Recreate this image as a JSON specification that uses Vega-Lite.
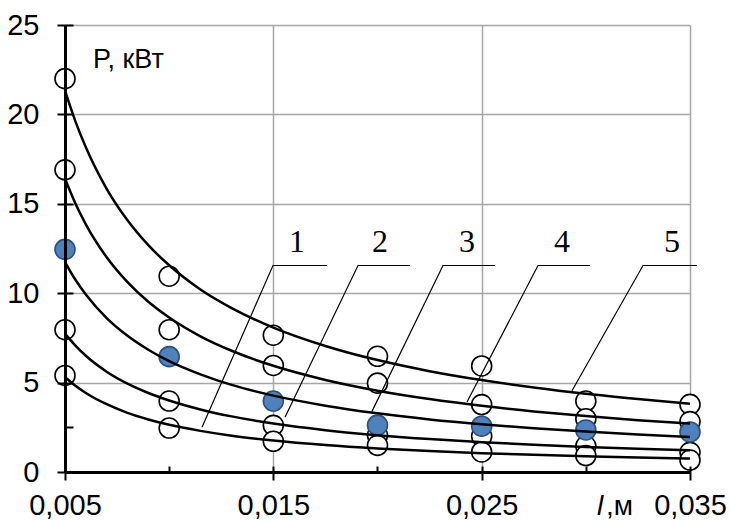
{
  "$schema": "https://vega.github.io/schema/vega-lite/v6.json",
  "width": 625,
  "height": 447,
  "autosize": {"type": "none"},
  "padding": {"left": 65, "top": 25, "right": 40, "bottom": 48},
  "background": "white",
  "config": {
    "view": {"stroke": null},
    "axis": {
      "labelFont": "Liberation Sans",
      "labelFontSize": 29,
      "labelColor": "black",
      "domainColor": "black",
      "domainWidth": 3,
      "tickColor": "black",
      "tickWidth": 2,
      "gridColor": "#a6a6a6",
      "gridWidth": 1.5,
      "title": null
    }
  },
  "datasets": {
    "pts": [
      {"x": 0.005, "y": 22.0, "k": "o"}, {"x": 0.005, "y": 16.9, "k": "o"}, {"x": 0.005, "y": 12.45, "k": "f"}, {"x": 0.005, "y": 7.96, "k": "o"}, {"x": 0.005, "y": 5.4, "k": "o"},
      {"x": 0.01, "y": 10.95, "k": "o"}, {"x": 0.01, "y": 7.96, "k": "o"}, {"x": 0.01, "y": 6.45, "k": "f"}, {"x": 0.01, "y": 3.97, "k": "o"}, {"x": 0.01, "y": 2.46, "k": "o"},
      {"x": 0.015, "y": 7.65, "k": "o"}, {"x": 0.015, "y": 5.96, "k": "o"}, {"x": 0.015, "y": 3.97, "k": "f"}, {"x": 0.015, "y": 2.61, "k": "o"}, {"x": 0.015, "y": 1.72, "k": "o"},
      {"x": 0.02, "y": 6.47, "k": "o"}, {"x": 0.02, "y": 4.97, "k": "o"}, {"x": 0.02, "y": 2.62, "k": "f"}, {"x": 0.02, "y": 2.05, "k": "o"}, {"x": 0.02, "y": 1.49, "k": "o"},
      {"x": 0.025, "y": 5.93, "k": "o"}, {"x": 0.025, "y": 3.77, "k": "o"}, {"x": 0.025, "y": 2.56, "k": "f"}, {"x": 0.025, "y": 2.0, "k": "o"}, {"x": 0.025, "y": 1.12, "k": "o"},
      {"x": 0.03, "y": 3.97, "k": "o"}, {"x": 0.03, "y": 2.98, "k": "o"}, {"x": 0.03, "y": 2.35, "k": "f"}, {"x": 0.03, "y": 1.45, "k": "o"}, {"x": 0.03, "y": 0.92, "k": "o"},
      {"x": 0.035, "y": 3.78, "k": "o"}, {"x": 0.035, "y": 2.82, "k": "o"}, {"x": 0.035, "y": 2.24, "k": "f"}, {"x": 0.035, "y": 1.1, "k": "o"}, {"x": 0.035, "y": 0.67, "k": "o"}
    ],
    "curves": [
      {"s": 5, "x": 0.005, "y": 21.33}, {"s": 5, "x": 0.0055, "y": 19.61}, {"s": 5, "x": 0.006, "y": 18.16}, {"s": 5, "x": 0.007, "y": 15.84}, {"s": 5, "x": 0.008, "y": 14.08}, {"s": 5, "x": 0.009, "y": 12.69}, {"s": 5, "x": 0.01, "y": 11.56}, {"s": 5, "x": 0.0115, "y": 10.21}, {"s": 5, "x": 0.013, "y": 9.17}, {"s": 5, "x": 0.015, "y": 8.08}, {"s": 5, "x": 0.0175, "y": 7.05}, {"s": 5, "x": 0.02, "y": 6.26}, {"s": 5, "x": 0.0225, "y": 5.64}, {"s": 5, "x": 0.025, "y": 5.14}, {"s": 5, "x": 0.0275, "y": 4.72}, {"s": 5, "x": 0.03, "y": 4.37}, {"s": 5, "x": 0.0325, "y": 4.08}, {"s": 5, "x": 0.035, "y": 3.82},
      {"s": 4, "x": 0.005, "y": 16.4}, {"s": 4, "x": 0.0055, "y": 15.02}, {"s": 4, "x": 0.006, "y": 13.85}, {"s": 4, "x": 0.007, "y": 12.01}, {"s": 4, "x": 0.008, "y": 10.62}, {"s": 4, "x": 0.009, "y": 9.52}, {"s": 4, "x": 0.01, "y": 8.64}, {"s": 4, "x": 0.0115, "y": 7.59}, {"s": 4, "x": 0.013, "y": 6.78}, {"s": 4, "x": 0.015, "y": 5.94}, {"s": 4, "x": 0.0175, "y": 5.15}, {"s": 4, "x": 0.02, "y": 4.55}, {"s": 4, "x": 0.0225, "y": 4.08}, {"s": 4, "x": 0.025, "y": 3.7}, {"s": 4, "x": 0.0275, "y": 3.39}, {"s": 4, "x": 0.03, "y": 3.13}, {"s": 4, "x": 0.0325, "y": 2.9}, {"s": 4, "x": 0.035, "y": 2.71},
      {"s": 3, "x": 0.005, "y": 11.74}, {"s": 3, "x": 0.0055, "y": 10.75}, {"s": 3, "x": 0.006, "y": 9.93}, {"s": 3, "x": 0.007, "y": 8.61}, {"s": 3, "x": 0.008, "y": 7.62}, {"s": 3, "x": 0.009, "y": 6.84}, {"s": 3, "x": 0.01, "y": 6.2}, {"s": 3, "x": 0.0115, "y": 5.46}, {"s": 3, "x": 0.013, "y": 4.87}, {"s": 3, "x": 0.015, "y": 4.27}, {"s": 3, "x": 0.0175, "y": 3.71}, {"s": 3, "x": 0.02, "y": 3.28}, {"s": 3, "x": 0.0225, "y": 2.94}, {"s": 3, "x": 0.025, "y": 2.67}, {"s": 3, "x": 0.0275, "y": 2.45}, {"s": 3, "x": 0.03, "y": 2.26}, {"s": 3, "x": 0.0325, "y": 2.1}, {"s": 3, "x": 0.035, "y": 1.96},
      {"s": 2, "x": 0.005, "y": 7.74}, {"s": 2, "x": 0.0055, "y": 7.07}, {"s": 2, "x": 0.006, "y": 6.5}, {"s": 2, "x": 0.007, "y": 5.61}, {"s": 2, "x": 0.008, "y": 4.94}, {"s": 2, "x": 0.009, "y": 4.42}, {"s": 2, "x": 0.01, "y": 4.0}, {"s": 2, "x": 0.0115, "y": 3.5}, {"s": 2, "x": 0.013, "y": 3.11}, {"s": 2, "x": 0.015, "y": 2.71}, {"s": 2, "x": 0.0175, "y": 2.34}, {"s": 2, "x": 0.02, "y": 2.06}, {"s": 2, "x": 0.0225, "y": 1.84}, {"s": 2, "x": 0.025, "y": 1.67}, {"s": 2, "x": 0.0275, "y": 1.52}, {"s": 2, "x": 0.03, "y": 1.4}, {"s": 2, "x": 0.0325, "y": 1.3}, {"s": 2, "x": 0.035, "y": 1.21},
      {"s": 1, "x": 0.005, "y": 5.31}, {"s": 1, "x": 0.0055, "y": 4.82}, {"s": 1, "x": 0.006, "y": 4.42}, {"s": 1, "x": 0.007, "y": 3.79}, {"s": 1, "x": 0.008, "y": 3.31}, {"s": 1, "x": 0.009, "y": 2.94}, {"s": 1, "x": 0.01, "y": 2.64}, {"s": 1, "x": 0.0115, "y": 2.3}, {"s": 1, "x": 0.013, "y": 2.03}, {"s": 1, "x": 0.015, "y": 1.76}, {"s": 1, "x": 0.0175, "y": 1.51}, {"s": 1, "x": 0.02, "y": 1.32}, {"s": 1, "x": 0.0225, "y": 1.17}, {"s": 1, "x": 0.025, "y": 1.05}, {"s": 1, "x": 0.0275, "y": 0.96}, {"s": 1, "x": 0.03, "y": 0.88}, {"s": 1, "x": 0.0325, "y": 0.81}, {"s": 1, "x": 0.035, "y": 0.75}
    ],
    "leaders": [
      {"id": 1, "o": 1, "x": 0.011576, "y": 2.5}, {"id": 1, "o": 2, "x": 0.014984, "y": 11.55}, {"id": 1, "o": 3, "x": 0.017576, "y": 11.55},
      {"id": 2, "o": 1, "x": 0.01556, "y": 3.06}, {"id": 2, "o": 2, "x": 0.019064, "y": 11.55}, {"id": 2, "o": 3, "x": 0.02156, "y": 11.55},
      {"id": 3, "o": 1, "x": 0.019736, "y": 3.39}, {"id": 3, "o": 2, "x": 0.023144, "y": 11.55}, {"id": 3, "o": 3, "x": 0.02564, "y": 11.55},
      {"id": 4, "o": 1, "x": 0.024296, "y": 3.91}, {"id": 4, "o": 2, "x": 0.027704, "y": 11.55}, {"id": 4, "o": 3, "x": 0.0302, "y": 11.55},
      {"id": 5, "o": 1, "x": 0.029336, "y": 4.54}, {"id": 5, "o": 2, "x": 0.032744, "y": 11.55}, {"id": 5, "o": 3, "x": 0.035336, "y": 11.55}
    ],
    "nums": [
      {"x": 0.01614, "y": 12.28, "t": "1"},
      {"x": 0.02012, "y": 12.28, "t": "2"},
      {"x": 0.0243, "y": 12.28, "t": "3"},
      {"x": 0.02886, "y": 12.28, "t": "4"},
      {"x": 0.03414, "y": 12.28, "t": "5"}
    ],
    "ylab": [{"x": 0.006344, "y": 22.57, "t": "P, кВт"}],
    "xlab1": [{"x": 0.030536, "y": -2.4, "t": "l"}],
    "xlab2": [{"x": 0.03097, "y": -2.4, "t": ",м"}]
  },
  "layer": [
    {
      "data": {"name": "pts"},
      "transform": [{"filter": "datum.k == 'o'"}],
      "mark": {"type": "point", "shape": "circle", "filled": false, "fill": "white", "fillOpacity": 1, "stroke": "black", "strokeWidth": 1.6, "size": 400, "opacity": 1},
      "encoding": {
        "x": {"field": "x", "type": "quantitative", "scale": {"domain": [0.005, 0.035], "nice": false, "zero": false},
              "axis": {"orient": "bottom", "values": [0.015, 0.025, 0.035], "grid": true, "domain": false, "ticks": false, "labels": false, "zindex": 0}},
        "y": {"field": "y", "type": "quantitative", "scale": {"domain": [0, 25], "nice": false, "zero": true},
              "axis": {"orient": "left", "values": [5, 10, 15, 20, 25], "grid": true, "domain": false, "ticks": false, "labels": false, "zindex": 0}}
      }
    },
    {
      "data": {"name": "pts"},
      "transform": [{"filter": "datum.k == 'f'"}],
      "mark": {"type": "point", "shape": "circle", "filled": true, "fill": "#4f81bd", "fillOpacity": 1, "stroke": "#2c4f7c", "strokeWidth": 1.6, "size": 400, "opacity": 1},
      "encoding": {
        "x": {"field": "x", "type": "quantitative", "scale": {"domain": [0.005, 0.035], "nice": false, "zero": false},
              "axis": {"orient": "bottom", "values": [0.005, 0.015, 0.025, 0.035], "grid": false, "tickSize": 8, "labelPadding": 11,
                       "labelExpr": "replace(format(datum.value, '.3f'), '.', ',')", "labelFlush": false, "labelOverlap": false, "zindex": 1}},
        "y": {"field": "y", "type": "quantitative", "scale": {"domain": [0, 25], "nice": false, "zero": true},
              "axis": {"orient": "left", "values": [0, 5, 10, 15, 20, 25], "grid": false, "tickSize": 8, "labelPadding": 18, "format": "d", "labelOverlap": false, "labelFlush": false, "zindex": 1}}
      }
    },
    {
      "data": {"name": "curves"},
      "mark": {"type": "line", "color": "black", "strokeWidth": 2.5, "interpolate": "monotone"},
      "encoding": {
        "x": {"field": "x", "type": "quantitative", "scale": {"domain": [0.005, 0.035], "nice": false, "zero": false},
              "axis": {"orient": "bottom", "values": [0.005, 0.01, 0.015, 0.02, 0.025, 0.03, 0.035], "grid": false, "domain": false, "labels": false, "tickSize": -6, "zindex": 1}},
        "y": {"field": "y", "type": "quantitative", "scale": {"domain": [0, 25], "nice": false, "zero": true},
              "axis": {"orient": "left", "values": [0, 2.5, 5, 10, 15, 20, 25], "grid": false, "domain": false, "labels": false, "tickSize": -8, "zindex": 1}},
        "detail": {"field": "s", "type": "nominal"},
        "order": {"field": "x", "type": "quantitative"}
      }
    },
    {
      "data": {"name": "leaders"},
      "mark": {"type": "line", "color": "black", "strokeWidth": 1.2},
      "encoding": {
        "x": {"field": "x", "type": "quantitative", "scale": {"domain": [0.005, 0.035], "nice": false, "zero": false}, "axis": null},
        "y": {"field": "y", "type": "quantitative", "scale": {"domain": [0, 25], "nice": false, "zero": true}, "axis": null},
        "detail": {"field": "id", "type": "nominal"},
        "order": {"field": "o", "type": "quantitative"}
      }
    },
    {
      "data": {"name": "nums"},
      "mark": {"type": "text", "font": "Liberation Serif", "fontSize": 32, "color": "black", "align": "center", "baseline": "alphabetic"},
      "encoding": {
        "x": {"field": "x", "type": "quantitative", "scale": {"domain": [0.005, 0.035], "nice": false, "zero": false}, "axis": null},
        "y": {"field": "y", "type": "quantitative", "scale": {"domain": [0, 25], "nice": false, "zero": true}, "axis": null},
        "text": {"field": "t"}
      }
    },
    {
      "data": {"name": "ylab"},
      "mark": {"type": "text", "font": "Liberation Sans", "fontSize": 27, "color": "black", "align": "left", "baseline": "alphabetic"},
      "encoding": {
        "x": {"field": "x", "type": "quantitative", "scale": {"domain": [0.005, 0.035], "nice": false, "zero": false}, "axis": null},
        "y": {"field": "y", "type": "quantitative", "scale": {"domain": [0, 25], "nice": false, "zero": true}, "axis": null},
        "text": {"field": "t"}
      }
    },
    {
      "data": {"name": "xlab1"},
      "mark": {"type": "text", "font": "Liberation Sans", "fontSize": 28, "fontStyle": "italic", "color": "black", "align": "left", "baseline": "alphabetic"},
      "encoding": {
        "x": {"field": "x", "type": "quantitative", "scale": {"domain": [0.005, 0.035], "nice": false, "zero": false}, "axis": null},
        "y": {"field": "y", "type": "quantitative", "scale": {"domain": [0, 25], "nice": false, "zero": true}, "axis": null},
        "text": {"field": "t"}
      }
    },
    {
      "data": {"name": "xlab2"},
      "mark": {"type": "text", "font": "Liberation Sans", "fontSize": 28, "color": "black", "align": "left", "baseline": "alphabetic"},
      "encoding": {
        "x": {"field": "x", "type": "quantitative", "scale": {"domain": [0.005, 0.035], "nice": false, "zero": false}, "axis": null},
        "y": {"field": "y", "type": "quantitative", "scale": {"domain": [0, 25], "nice": false, "zero": true}, "axis": null},
        "text": {"field": "t"}
      }
    }
  ],
  "resolve": {"axis": {"x": "independent", "y": "independent"}}
}
